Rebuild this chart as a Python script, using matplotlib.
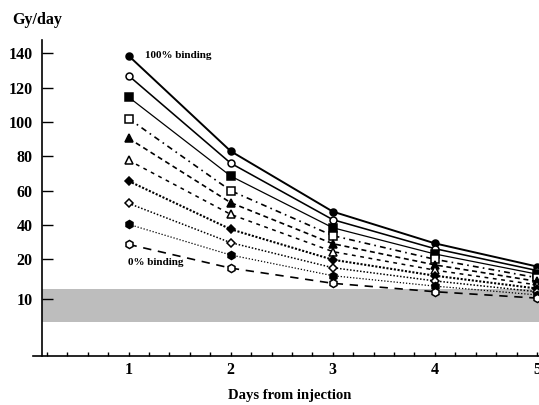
import numpy as np
import matplotlib
matplotlib.use('Agg')
import matplotlib.pyplot as plt

# days after injection
days = [1, 2, 3, 4, 5]

# dose rate (Gy/day) for each binding fraction
dose_100 = [138.6, 83.0, 47.8, 29.3, 18.2]
dose_90 = [127.0, 76.0, 43.1, 26.2, 17.2]
dose_80 = [114.5, 68.5, 38.4, 23.1, 16.3]
dose_70 = [102.0, 60.0, 33.8, 20.0, 15.4]
dose_60 = [90.5, 53.0, 29.1, 18.6, 14.5]
dose_50 = [77.7, 46.2, 24.5, 17.3, 13.6]
dose_40 = [65.6, 37.5, 19.9, 15.9, 12.7]
dose_30 = [52.6, 29.7, 17.9, 14.6, 11.9]
dose_20 = [40.4, 22.5, 15.9, 13.3, 11.1]
dose_10 = [28.7, 17.8, 14.0, 11.9, 10.3]

y_ticks = [10, 20, 40, 60, 80, 100, 120, 140]
band_low, band_high = 6.0, 12.5

series = [
    (dose_100, 'o', 'k', '-', 1.4),
    (dose_90, 'o', 'w', '-', 1.15),
    (dose_80, 's', 'k', '-', 0.9),
    (dose_70, 's', 'w', (0, (3.5, 2.5, 1, 2.5)), 1.2),
    (dose_60, '^', 'k', (0, (3, 2.2)), 1.2),
    (dose_50, '^', 'w', (0, (2.5, 3)), 1.1),
    (dose_40, 'D', 'k', (0, (1, 0.8)), 1.5),
    (dose_30, 'D', 'w', (0, (1, 1.2)), 1.1),
    (dose_20, 'h', 'k', (0, (1, 1.5)), 0.9),
    (dose_10, 'h', 'w', (0, (5, 4)), 1.2),
]

# the original axis is stretched below 20 Gy/day
y_vals = [-1000, 0, 10, 20, 140, 1000]
y_pos = [-5640, 0, 56.4, 96.4, 302.4, 302.4 + 860 * 1.717]

def fwd(v):
    return np.interp(v, y_vals, y_pos)

def inv(p):
    return np.interp(p, y_pos, y_vals)

plt.rcParams['font.family'] = ['Liberation Serif', 'DejaVu Serif']
plt.rcParams['font.weight'] = 'bold'

fig = plt.figure(figsize=(5.39, 4.05), dpi=100)
ax = fig.add_axes([0.0605, 0.1217, 0.9395, 0.7793])
ax.set_yscale('function', functions=(fwd, inv))
ax.set_xlim(0.06, 5.02)
ax.set_ylim(0, 147.7)

ax.fill_between([0.15, 5.2], band_low, band_high, color='#bdbdbd', lw=0, zorder=0)

for vals, mk, face, ls, lw in series:
    ms = {'o': 5, 's': 5.5, '^': 6, 'D': 4.3, 'h': 5.8}[mk]
    ax.plot(days, vals, color='k', linestyle=ls, linewidth=lw, marker=mk,
            markersize=ms, markerfacecolor=face, markeredgecolor='k',
            markeredgewidth=1.1, zorder=3)

ax.text(1.16, 139, '100% binding', fontsize=8, fontweight='bold', va='center', ha='left')
ax.text(0.99, 19.3, '0% binding', fontsize=8, fontweight='bold', va='center', ha='left')

ax.spines['top'].set_visible(False)
ax.spines['right'].set_visible(False)
ax.spines['left'].set_position(('data', 0.15))
ax.spines['left'].set_linewidth(1.2)
ax.spines['bottom'].set_linewidth(1.2)

ax.set_yticks(y_ticks)
ax.set_yticklabels([str(t) for t in y_ticks])
ax.set_xticks(days)
ax.set_xticks(np.arange(0.2, 5.01, 0.2), minor=True)
ax.tick_params(axis='y', direction='in', length=8, width=1, pad=6.5, labelsize=11.5)
ax.tick_params(axis='x', which='both', direction='in', length=3, width=1, pad=4.5, labelsize=11.5)

fig.text(12 / 539, 1 - 20 / 405, 'Gy/day', fontsize=11.5, fontweight='bold', ha='left', va='center')
fig.text(290 / 539, 1 - 395 / 405, 'Days from injection', fontsize=10.5, fontweight='bold',
         ha='center', va='center')

fig.savefig('out.png', dpi=100)
